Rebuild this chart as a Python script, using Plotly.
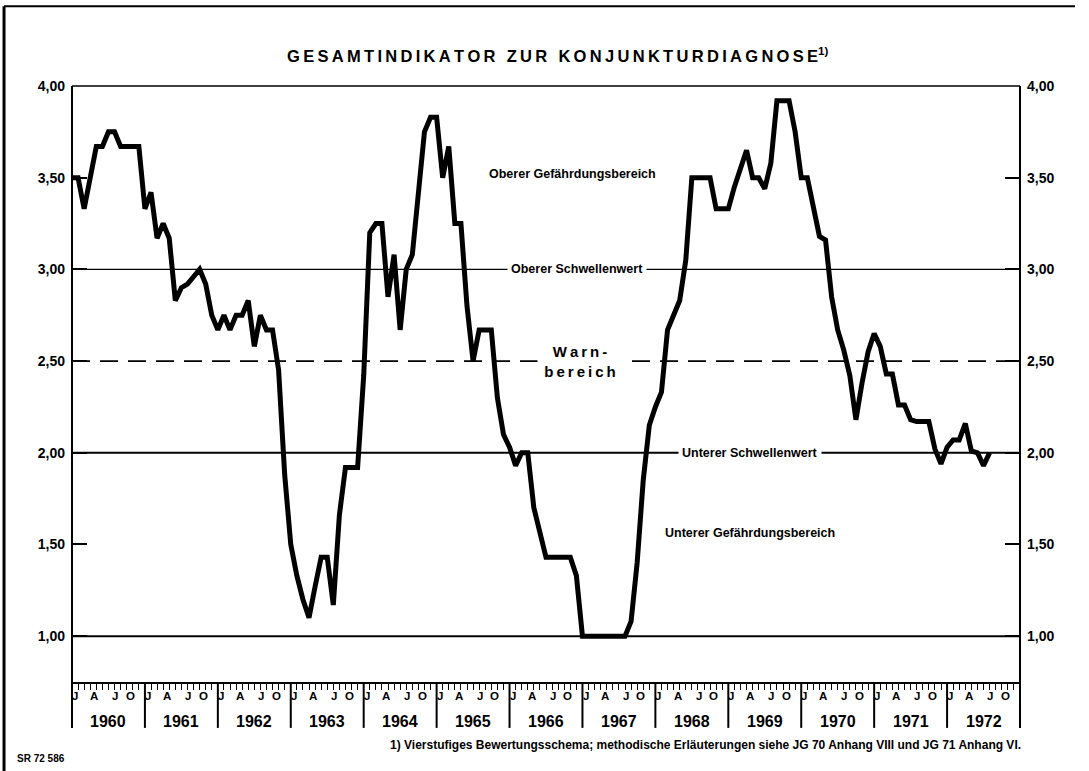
import plotly.graph_objects as go

# Monthly values of the overall business-cycle indicator, Jan 1960 - Aug 1972
v1960 = [3.50, 3.50, 3.33, 3.50, 3.67, 3.67, 3.75, 3.75, 3.67, 3.67, 3.67, 3.67]
v1961 = [3.33, 3.42, 3.17, 3.25, 3.17, 2.83, 2.90, 2.92, 2.96, 3.00, 2.92, 2.75]
v1962 = [2.67, 2.75, 2.67, 2.75, 2.75, 2.83, 2.58, 2.75, 2.67, 2.67, 2.45, 1.88]
v1963 = [1.50, 1.33, 1.20, 1.10, 1.27, 1.43, 1.43, 1.17, 1.66, 1.92, 1.92, 1.92]
v1964 = [2.42, 3.20, 3.25, 3.25, 2.85, 3.08, 2.67, 3.00, 3.08, 3.42, 3.75, 3.83]
v1965 = [3.83, 3.50, 3.67, 3.25, 3.25, 2.80, 2.50, 2.67, 2.67, 2.67, 2.30, 2.10]
v1966 = [2.03, 1.93, 2.00, 2.00, 1.70, 1.55, 1.43, 1.43, 1.43, 1.43, 1.43, 1.33]
v1967 = [1.00, 1.00, 1.00, 1.00, 1.00, 1.00, 1.00, 1.00, 1.08, 1.40, 1.85, 2.15]
v1968 = [2.25, 2.33, 2.67, 2.75, 2.83, 3.05, 3.50, 3.50, 3.50, 3.50, 3.33, 3.33]
v1969 = [3.33, 3.45, 3.55, 3.65, 3.50, 3.50, 3.44, 3.58, 3.92, 3.92, 3.92, 3.75]
v1970 = [3.50, 3.50, 3.35, 3.18, 3.16, 2.85, 2.67, 2.56, 2.42, 2.18, 2.38, 2.55]
v1971 = [2.65, 2.58, 2.43, 2.43, 2.26, 2.26, 2.18, 2.17, 2.17, 2.17, 2.02, 1.94]
v1972 = [2.03, 2.07, 2.07, 2.16, 2.01, 2.00, 1.93, 2.00]

years = list(range(1960, 1973))
month_letters = ["J", "A", "J", "O"]
month_offsets = [0.5, 3.65, 7.1, 9.6]          # label position inside the year, in months
y_ticks = [1.0, 1.5, 2.0, 2.5, 3.0, 3.5, 4.0]

# Threshold levels
upper_threshold = 3.0
warn_level = 2.5
lower_threshold = 2.0
bottom_level = 1.0

values = (v1960 + v1961 + v1962 + v1963 + v1964 + v1965 + v1966 +
          v1967 + v1968 + v1969 + v1970 + v1971 + v1972)
x = [1960 + i / 12 for i in range(len(values))]

FONT = "Liberation Sans, Arial, sans-serif"
NB = "\u00a0"
THIN = "\u2009"


def spaced(s, gap=THIN, word_gap=NB + THIN + THIN):
    return word_gap.join(gap.join(w) for w in s.split(" "))


fig = go.Figure()
fig.add_trace(go.Scatter(
    x=x, y=values, mode="lines",
    line=dict(color="black", width=5),
    hoverinfo="skip", showlegend=False,
))
# empty trace so the mirrored right-hand axis gets its own subplot
fig.add_trace(go.Scatter(x=[], y=[], yaxis="y2", showlegend=False, hoverinfo="skip"))

axis_font = dict(family=FONT, size=14, color="black", weight="bold")
yaxis_common = dict(
    range=[0.75, 4.0], tickvals=y_ticks, tickformat=".2f",
    ticks="inside", ticklen=15, tickwidth=1.5, tickcolor="black",
    showgrid=False, zeroline=False, showline=False,
    tickfont=axis_font, ticklabelstandoff=6,
)

BAND_BOTTOM = -0.077   # lower end of the year dividers (paper units)

shapes = []
# level lines
shapes.append(dict(type="line", xref="paper", yref="y", x0=0, x1=1,
                   y0=upper_threshold, y1=upper_threshold,
                   line=dict(color="black", width=1.2), layer="below"))
shapes.append(dict(type="line", xref="paper", yref="y", x0=0, x1=1,
                   y0=warn_level, y1=warn_level,
                   line=dict(color="black", width=1.8, dash="18px,10px"), layer="below"))
shapes.append(dict(type="line", xref="paper", yref="y", x0=0, x1=1,
                   y0=lower_threshold, y1=lower_threshold,
                   line=dict(color="black", width=2), layer="below"))
shapes.append(dict(type="line", xref="paper", yref="y", x0=0, x1=1,
                   y0=bottom_level, y1=bottom_level,
                   line=dict(color="black", width=2), layer="below"))
# plot frame
shapes.append(dict(type="line", xref="paper", yref="paper", x0=0, x1=1, y0=1, y1=1,
                   line=dict(color="black", width=1.5)))
for px in (0, 1):
    shapes.append(dict(type="line", xref="paper", yref="paper", x0=px, x1=px,
                       y0=BAND_BOTTOM, y1=1, line=dict(color="black", width=2)))
# year dividers in the time band
for yr in years[1:]:
    shapes.append(dict(type="line", xref="x", yref="paper", x0=yr, x1=yr,
                       y0=BAND_BOTTOM, y1=0, line=dict(color="black", width=2)))
# outer page border (left and top)
shapes.append(dict(type="line", xref="paper", yref="paper", x0=-0.0717, x1=-0.0717,
                   y0=-0.15, y1=1.134, line=dict(color="black", width=3)))
shapes.append(dict(type="line", xref="paper", yref="paper", x0=-0.0717, x1=1.058,
                   y0=1.134, y1=1.134, line=dict(color="black", width=2)))

annotations = []
# month letters and year labels
for yr in years:
    for letter, off in zip(month_letters, month_offsets):
        annotations.append(dict(
            x=yr + off / 12, y=-0.0235, xref="x", yref="paper",
            text=letter, showarrow=False, xanchor="center", yanchor="middle",
            font=dict(family=FONT, size=11.5, color="black", weight="bold"),
        ))
    annotations.append(dict(
        x=yr + 0.5, y=-0.067, xref="x", yref="paper",
        text=str(yr), showarrow=False, xanchor="center", yanchor="middle",
        font=dict(family=FONT, size=16, color="black", weight="bold"),
    ))

label_font = dict(family=FONT, size=12.5, color="black", weight="bold")
annotations += [
    dict(x=1966.87, y=3.52, xref="x", yref="y", text="Oberer Gefährdungsbereich",
         showarrow=False, font=label_font),
    dict(x=1966.92, y=upper_threshold, xref="x", yref="y", text="Oberer Schwellenwert",
         showarrow=False, font=label_font, bgcolor="white", borderpad=3),
    dict(x=1966.97, y=warn_level, xref="x", yref="y",
         text=spaced("Warn-") + "<br>" + spaced("bereich"),
         showarrow=False, bgcolor="white", width=80, borderpad=2,
         font=dict(family=FONT, size=15, color="black", weight="bold")),
    dict(x=1969.30, y=lower_threshold, xref="x", yref="y", text="Unterer Schwellenwert",
         showarrow=False, font=label_font, bgcolor="white", borderpad=3),
    dict(x=1969.30, y=1.56, xref="x", yref="y", text="Unterer Gefährdungsbereich",
         showarrow=False, font=label_font),
    # title
    dict(x=0.512, y=1.052, xref="paper", yref="paper",
         text=spaced("GESAMTINDIKATOR ZUR KONJUNKTURDIAGNOSE") + "<sup>1)</sup>",
         showarrow=False, xanchor="center", yanchor="middle",
         font=dict(family=FONT, size=16.5, color="black", weight="bold")),
    # footnote
    dict(x=1.003, y=-0.106, xref="paper", yref="paper",
         text="1) Vierstufiges Bewertungsschema; methodische Erläuterungen siehe "
              "JG 70 Anhang VIII und JG 71 Anhang VI.",
         showarrow=False, xanchor="right", yanchor="middle",
         font=dict(family=FONT, size=12, color="black", weight="bold")),
    dict(x=-0.060, y=-0.128, xref="paper", yref="paper", text="SR 72 586",
         showarrow=False, xanchor="left", yanchor="middle",
         font=dict(family=FONT, size=10, color="black", weight="bold")),
]

fig.update_layout(
    width=1089, height=771,
    margin=dict(l=72, r=69, t=86, b=89, pad=0),
    paper_bgcolor="white", plot_bgcolor="white",
    separators=",.",
    showlegend=False,
    xaxis=dict(
        range=[1960, 1973], tick0=1960, dtick=1 / 12,
        ticks="outside", ticklen=6, tickwidth=1, tickcolor="black",
        showticklabels=False, showgrid=False, zeroline=False,
        showline=True, linecolor="black", linewidth=2,
    ),
    yaxis=dict(side="left", **yaxis_common),
    yaxis2=dict(side="right", overlaying="y", **yaxis_common),
    shapes=shapes,
    annotations=annotations,
)

fig.write_html("out.html")
